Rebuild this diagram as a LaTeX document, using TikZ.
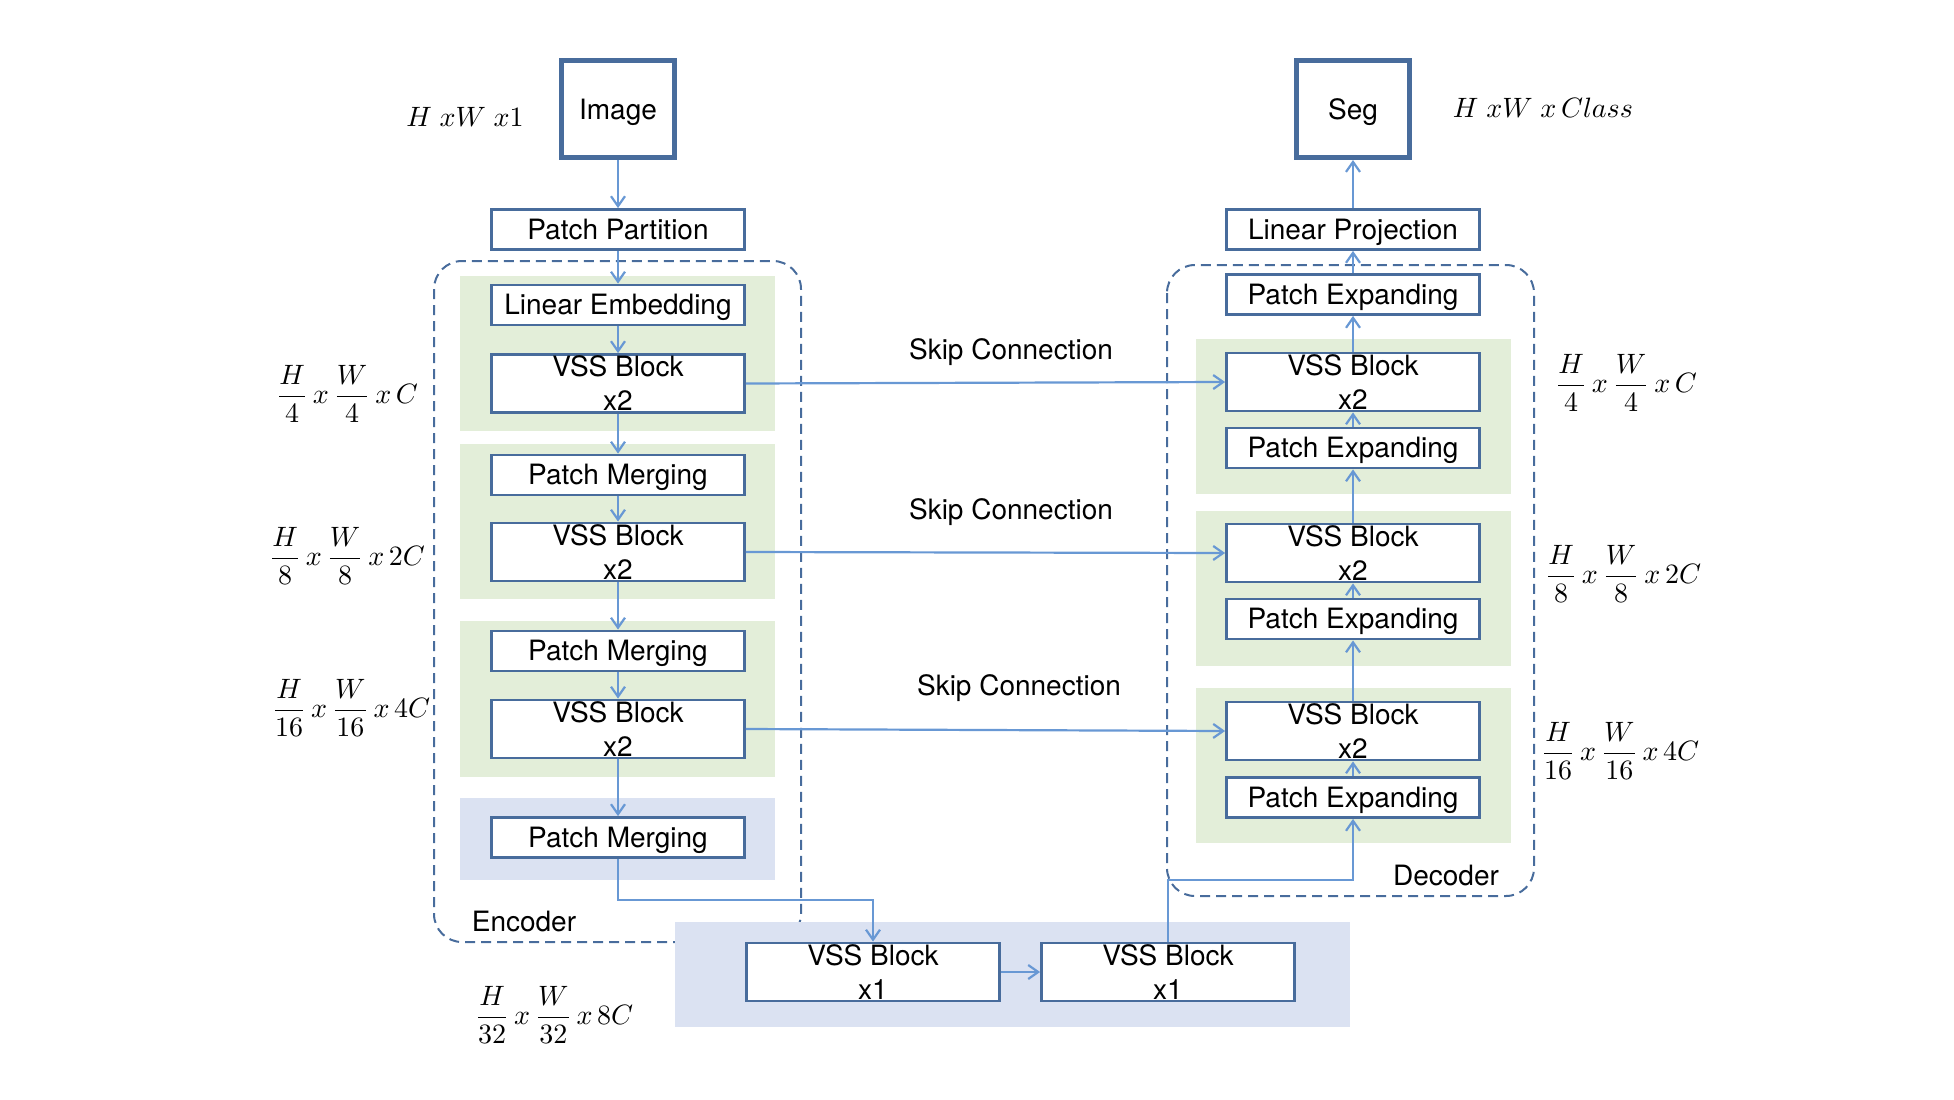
\documentclass[tikz,border=0pt]{standalone}
\usepackage{graphicx}
\usepackage{fontspec}
\setmainfont{TeX Gyre Heros}
\usetikzlibrary{arrows.meta}
\definecolor{bord}{RGB}{72,108,156}
\definecolor{arrc}{RGB}{104,152,212}
\definecolor{pgreen}{RGB}{227,238,217}
\definecolor{pblue}{RGB}{219,226,242}
\newcommand{\dimlabel}[1]{\scalebox{2.8}{\fontsize{10}{12}\selectfont$\displaystyle #1$}}
\begin{document}
\begin{tikzpicture}[x=1pt,y=-1pt,
  basebox/.style={draw=bord,line width=2.8pt,fill=white,minimum width=253pt,minimum height=40pt,inner sep=0pt,font=\fontsize{28}{34}\selectfont},
  box/.style={basebox,text height=21pt,text depth=2pt},
  vss/.style={basebox,minimum height=58pt,align=center},
  io/.style={draw=bord,line width=5pt,fill=white,minimum width=113pt,minimum height=97pt,inner sep=0pt,text height=21pt,text depth=1pt,font=\fontsize{28}{34}\selectfont},
  arr/.style={draw=arrc,line width=2.2pt,-{Straight Barb[length=10pt,width=14pt]}},
  lbl/.style={font=\fontsize{28}{34}\selectfont,inner sep=0pt},
  dashbox/.style={draw=bord,line width=2pt,dash pattern=on 10pt off 6pt,rounded corners=28pt},
  gpanel/.style={fill=pgreen},
  bpanel/.style={fill=pblue}
]
\useasboundingbox (0,0) rectangle (1954,1100);

% dashed group boxes
\draw[dashbox] (434,261) rectangle (801,942);
\draw[dashbox] (1167,265) rectangle (1534,896);

% panels
\fill[gpanel] (460,276) rectangle (775,431);
\fill[gpanel] (460,444) rectangle (775,599);
\fill[gpanel] (460,621) rectangle (775,777);
\fill[bpanel] (460,798) rectangle (775,880);
\fill[gpanel] (1196,339) rectangle (1511,494);
\fill[gpanel] (1196,511) rectangle (1511,666);
\fill[gpanel] (1196,688) rectangle (1511,843);
\fill[bpanel] (675,922) rectangle (1350,1027);

% encoder nodes
\node[io] (img) at (618,109) {Image};
\node[box] (pp) at (618,229.5) {Patch Partition};
\node[box] (le) at (618,305) {Linear Embedding};
\node[vss] (v1) at (618,383.5) {VSS Block\\x2};
\node[box] (pm1) at (618,475) {Patch Merging};
\node[vss] (v2) at (618,552) {VSS Block\\x2};
\node[box] (pm2) at (618,651) {Patch Merging};
\node[vss] (v3) at (618,729) {VSS Block\\x2};
\node[box] (pm3) at (618,837.5) {Patch Merging};

% bottleneck
\node[vss] (bv1) at (873,972) {VSS Block\\x1};
\node[vss] (bv2) at (1168,972) {VSS Block\\x1};

% decoder nodes
\node[io] (seg) at (1353,109) {Seg};
\node[box] (lp) at (1353,229.5) {Linear Projection};
\node[box] (pe0) at (1353,294.5) {Patch Expanding};
\node[vss] (vd1) at (1353,382) {VSS Block\\x2};
\node[box] (ped1) at (1353,448) {Patch Expanding};
\node[vss] (vd2) at (1353,553) {VSS Block\\x2};
\node[box] (ped2) at (1353,619) {Patch Expanding};
\node[vss] (vd3) at (1353,731) {VSS Block\\x2};
\node[box] (ped3) at (1353,797.5) {Patch Expanding};

% labels
\node[lbl] (encl) at (524,921) {Encoder};
\node[lbl] (decl) at (1446,875) {Decoder};
\node[lbl] (sk1) at (1011,352) {Skip Connection};
\node[lbl] (sk2) at (1011,512) {Skip Connection};
\node[lbl] (sk3) at (1019,688) {Skip Connection};

\node[lbl] (d0) at (465,117) {\dimlabel{H\;x W\;x 1}};
\node[lbl] (d1) at (347,394) {\dimlabel{\frac{H}{4}\,x\,\frac{W}{4}\,x\,C}};
\node[lbl] (d2) at (347,556) {\dimlabel{\frac{H}{8}\,x\,\frac{W}{8}\,x\,2C}};
\node[lbl] (d3) at (351,708) {\dimlabel{\frac{H}{16}\,x\,\frac{W}{16}\,x\,4C}};
\node[lbl] (d4) at (554,1015) {\dimlabel{\frac{H}{32}\,x\,\frac{W}{32}\,x\,8C}};
\node[lbl] (r0) at (1543,108) {\dimlabel{H\;x W\;x\,C l a s s}};
\node[lbl] (r1) at (1626,383) {\dimlabel{\frac{H}{4}\,x\,\frac{W}{4}\,x\,C}};
\node[lbl] (r2) at (1623,574) {\dimlabel{\frac{H}{8}\,x\,\frac{W}{8}\,x\,2C}};
\node[lbl] (r3) at (1620,751) {\dimlabel{\frac{H}{16}\,x\,\frac{W}{16}\,x\,4C}};

% encoder connectors
\draw[arr] (img) -- (pp);
\draw[arr] (pp) -- (le);
\draw[arr] (le) -- (v1);
\draw[arr] (v1) -- (pm1);
\draw[arr] (pm1) -- (v2);
\draw[arr] (v2) -- (pm2);
\draw[arr] (pm2) -- (v3);
\draw[arr] (v3) -- (pm3);
\coordinate (k1) at (618,900);
\draw[arr] (pm3.south) -- (k1) -| (bv1.north);
\draw[arr] (bv1) -- (bv2);
\coordinate (k2) at (1168,880);
\draw[arr] (bv2.north) -- (k2) -| (ped3.south);

% decoder connectors
\draw[arr] (ped3) -- (vd3);
\draw[arr] (vd3) -- (ped2);
\draw[arr] (ped2) -- (vd2);
\draw[arr] (vd2) -- (ped1);
\draw[arr] (ped1) -- (vd1);
\draw[arr] (vd1) -- (pe0);
\draw[arr] (pe0) -- (lp);
\draw[arr] (lp) -- (seg);

% skip connections
\draw[arr] (v1.east) -- (vd1.west);
\draw[arr] (v2.east) -- (vd2.west);
\draw[arr] (v3.east) -- (vd3.west);
\end{tikzpicture}
\end{document}
